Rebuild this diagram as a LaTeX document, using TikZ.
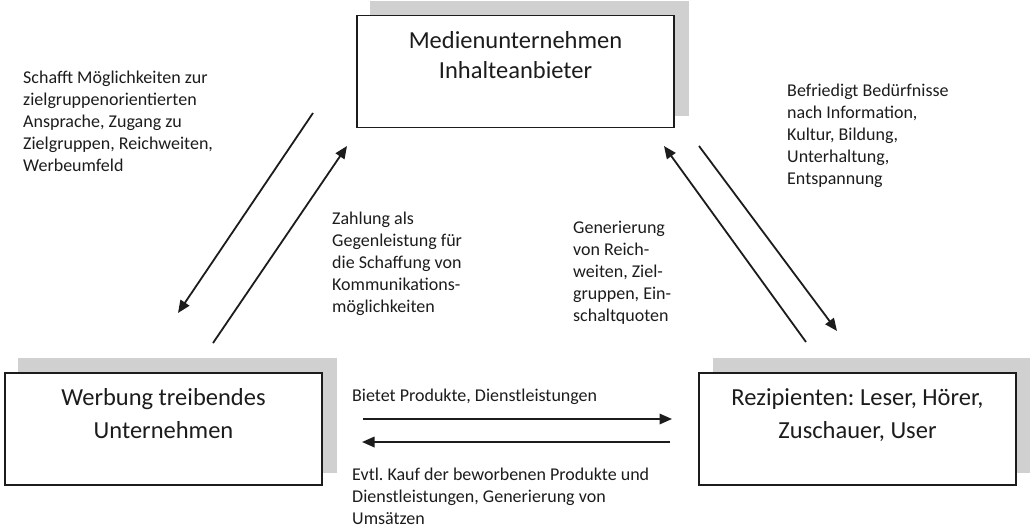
\documentclass[tikz,border=0pt]{standalone}
\usepackage{fontspec}
\setmainfont{Carlito}
\usetikzlibrary{arrows.meta}
\definecolor{shade}{HTML}{D0D0D0}
\definecolor{ink}{HTML}{1C1C1C}
\frenchspacing
\begin{document}
\begin{tikzpicture}[x=1pt,y=-1pt,
  shadowbox/.style={fill=shade, draw=none, minimum width=319pt, minimum height=115pt, inner sep=0pt, outer sep=0pt},
  mainbox/.style={fill=white, draw=ink, line width=1.6pt, minimum width=317.5pt, minimum height=112pt, inner sep=0pt, outer sep=0pt},
  boxtext/.style={anchor=base, inner sep=0pt, text=ink},
  note/.style={anchor=base west, inner sep=0pt, text=ink, font=\fontsize{18}{22}\selectfont},
  flow/.style={draw=ink, line width=1.8pt, -{Triangle[length=12.5pt,width=10.5pt]}}
]
\useasboundingbox (0,0) rectangle (1030,528);

% shadows
\node[shadowbox] (topsh) at (529.5,58.5) {};
\node[shadowbox] (leftsh) at (177.5,415.5) {};
\node[shadowbox] (rightsh) at (872.5,415.5) {};

% boxes
\node[mainbox] (top) at (515.5,71.5) {};
\node[mainbox] (left) at (163.5,429) {};
\node[mainbox] (right) at (857.5,429) {};

\node[boxtext, font=\fontsize{24.5}{30}\selectfont] (toptext) at (515.5,48.3)
  {\begin{tabular}[t]{@{}c@{}}Medienunternehmen\\Inhalteanbieter\end{tabular}};
\node[boxtext, font=\fontsize{24.5}{33.3}\selectfont] (lefttext) at (163.5,405)
  {\begin{tabular}[t]{@{}c@{}}Werbung treibendes\\Unternehmen\end{tabular}};
\node[boxtext, font=\fontsize{24.5}{33.3}\selectfont] (righttext) at (857.5,405)
  {\begin{tabular}[t]{@{}c@{}}Rezipienten: Leser, Hörer,\\Zuschauer, User\end{tabular}};

% notes
\node[note] (schafft) at (23,83.5)
  {\begin{tabular}[t]{@{}l@{}}Schafft Möglichkeiten zur\\zielgruppenorientierten\\Ansprache, Zugang zu\\Zielgruppen, Reichweiten,\\Werbeumfeld\end{tabular}};
\node[note] (zahlung) at (332,224)
  {\begin{tabular}[t]{@{}l@{}}Zahlung als\\Gegenleistung für\\die Schaffung von\\Kommunikations-\\möglichkeiten\end{tabular}};
\node[note] (gener) at (573,233)
  {\begin{tabular}[t]{@{}l@{}}Generierung\\von Reich-\\weiten, Ziel-\\gruppen, Ein-\\schaltquoten\end{tabular}};
\node[note] (befr) at (787,96)
  {\begin{tabular}[t]{@{}l@{}}Befriedigt Bedürfnisse\\nach Information,\\Kultur, Bildung,\\Unterhaltung,\\Entspannung\end{tabular}};
\node[note] (bietet) at (352,401.7) {Bietet Produkte, Dienstleistungen};
\node[note] (evtl) at (352,480)
  {\begin{tabular}[t]{@{}l@{}}Evtl. Kauf der beworbenen Produkte und\\Dienstleistungen, Generierung von\\Umsätzen\end{tabular}};

% arrow end points
\coordinate (a1) at (313,113);
\coordinate (a2) at (178,313);
\coordinate (b1) at (213,343);
\coordinate (b2) at (347,146);
\coordinate (c1) at (806,342);
\coordinate (c2) at (664,146);
\coordinate (d1) at (699,146);
\coordinate (d2) at (837,331);
\coordinate (e1) at (363,419);
\coordinate (e2) at (672,419);
\coordinate (f1) at (670,442);
\coordinate (f2) at (362,442);

\draw[flow] (a1) -- (a2);
\draw[flow] (b1) -- (b2);
\draw[flow] (c1) -- (c2);
\draw[flow] (d1) -- (d2);
\draw[flow] (e1) -- (e2);
\draw[flow] (f1) -- (f2);
\end{tikzpicture}
\end{document}
